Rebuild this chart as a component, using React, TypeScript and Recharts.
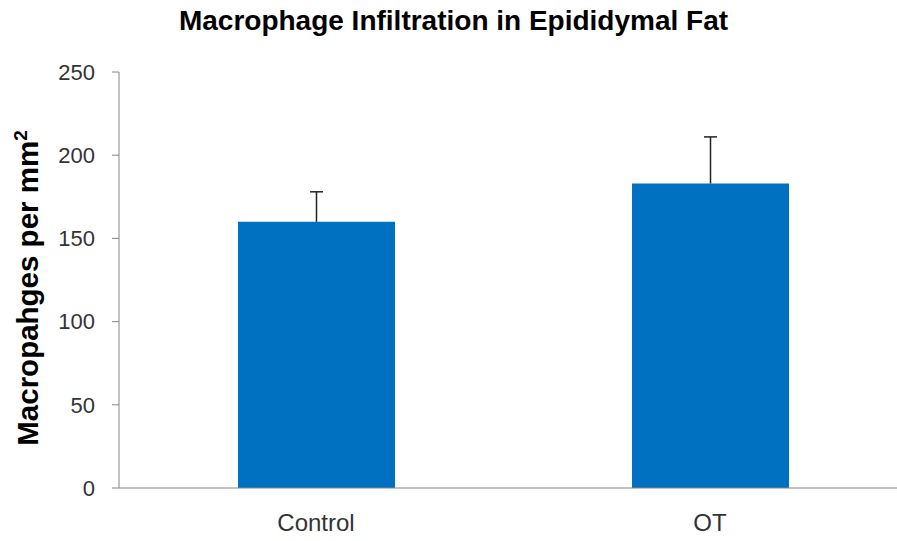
import React from 'react';
import { BarChart, Bar, XAxis, YAxis, Label, Rectangle } from 'recharts';

const categories = ['Control', 'OT'];
const means = [160, 183];
const errors = [18, 28];
const yTicks = [0, 50, 100, 150, 200, 250];

const data = categories.map((name, i) => ({ name, value: means[i], err: errors[i] }));

const FONT = "'Liberation Sans', Arial, sans-serif";
const AXIS = '#868686';
const TEXT = '#333333';

// bar plus one-sided (upper) error bar, scaled from the bar's own height/value
function BarWithError(props: any) {
  const { x, y, width, height, payload, fill } = props;
  const pxPerUnit = height / payload.value;
  const top = y - payload.err * pxPerUnit;
  const cx = x + width / 2;
  return (
    <g>
      <Rectangle x={x} y={y} width={width} height={height} fill={fill} />
      <line x1={cx} x2={cx} y1={y} y2={top} stroke="#222" strokeWidth={1.5} />
      <line x1={cx - 6.5} x2={cx + 6.5} y1={top} y2={top} stroke="#222" strokeWidth={1.5} />
    </g>
  );
}

function YTitle() {
  const cx = 38;
  const cy = 288;
  return (
    <text
      x={cx}
      y={cy}
      transform={`rotate(-90, ${cx}, ${cy})`}
      textAnchor="middle"
      fontFamily={FONT}
      fontWeight="bold"
      fontSize={29.5}
      fill="#000"
    >
      Macropahges per mm<tspan dy={-11} fontSize={19}>2</tspan>
    </text>
  );
}

export default function App() {
  return (
    <div style={{ position: 'absolute', left: 0, top: 0, width: 897, height: 541, overflow: 'hidden', background: '#fff' }}>
      <div
        style={{
          position: 'absolute',
          top: 5,
          left: 0,
          width: 907,
          textAlign: 'center',
          fontFamily: FONT,
          fontWeight: 'bold',
          fontSize: 28,
          lineHeight: '32px',
          color: '#000',
        }}
      >
        Macrophage Infiltration in Epididymal Fat
      </div>
      <BarChart width={910} height={541} data={data} margin={{ top: 72, right: 3, bottom: 0, left: 0 }}>
        {/* category boundary ticks, like Excel */}
        <XAxis
          xAxisId="bounds"
          type="number"
          domain={[0, 2]}
          ticks={[0, 1, 2]}
          tick={false}
          tickSize={7}
          height={1}
          axisLine={{ stroke: AXIS }}
          tickLine={{ stroke: AXIS }}
        />
        <XAxis
          xAxisId="cat"
          dataKey="name"
          axisLine={false}
          tickLine={false}
          height={52}
          tick={{ fill: TEXT, fontSize: 24, fontFamily: FONT }}
          tickMargin={19}
        />
        <YAxis
          domain={[0, 250]}
          ticks={yTicks}
          width={119}
          tickSize={7}
          stroke={AXIS}
          tick={{ fill: TEXT, fontSize: 22, fontFamily: FONT }}
          tickMargin={17}
        >
          <Label content={<YTitle />} />
        </YAxis>
        <Bar xAxisId="cat" dataKey="value" fill="#0070C0" barSize={157} isAnimationActive={false} shape={<BarWithError />} />
      </BarChart>
    </div>
  );
}
